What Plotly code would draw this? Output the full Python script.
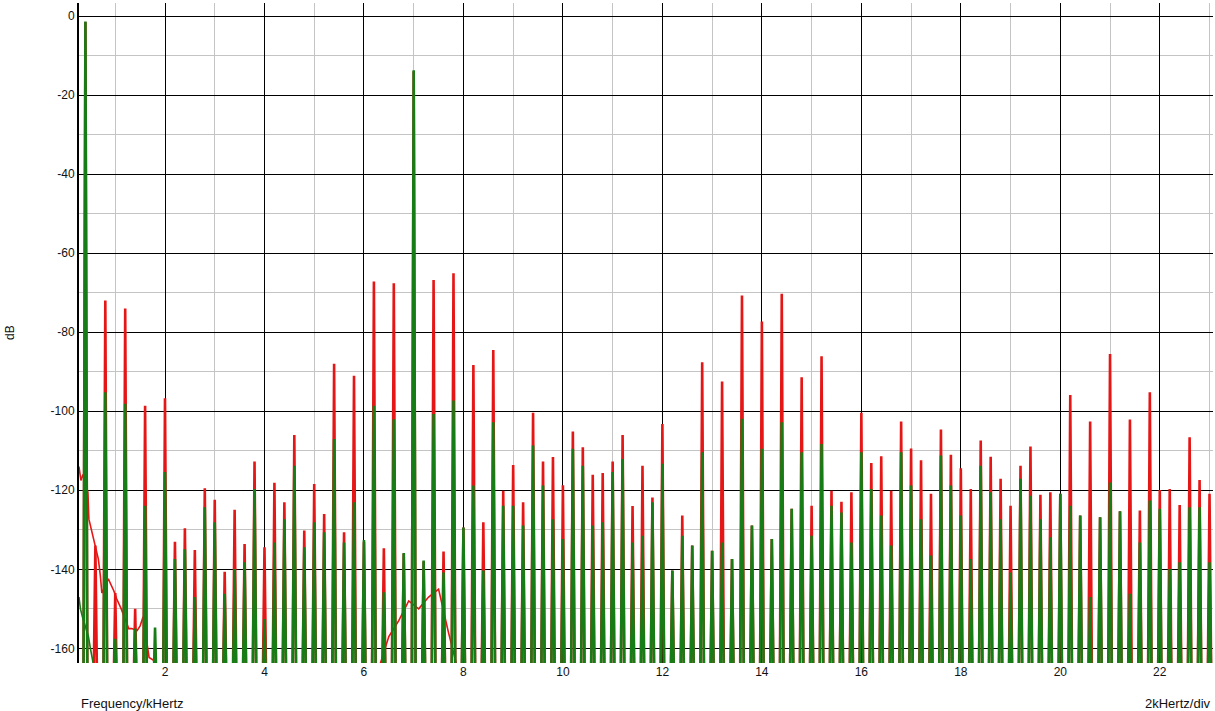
import plotly.graph_objects as go

# ---- data (frequency in kHz, level in dB) ----
spike_khz = [0.4, 0.6, 0.8, 1.0, 1.2, 1.4, 1.6, 1.8, 2.0, 2.2, 2.4, 2.6, 2.8, 3.0,
             3.2, 3.4, 3.6, 3.8, 4.0, 4.2, 4.4, 4.6, 4.8, 5.0, 5.2, 5.4, 5.6, 5.8,
             6.0, 6.2, 6.4, 6.6, 6.8, 7.0, 7.2, 7.4, 7.6, 7.8, 8.0, 8.2, 8.4, 8.6,
             8.8, 9.0, 9.2, 9.4, 9.6, 9.8, 10.0, 10.2, 10.4, 10.6, 10.8, 11.0, 11.2,
             11.4, 11.6, 11.8, 12.0, 12.2, 12.4, 12.6, 12.8, 13.0, 13.2, 13.4, 13.6,
             13.8, 14.0, 14.2, 14.4, 14.6, 14.8, 15.0, 15.2, 15.4, 15.6, 15.8, 16.0,
             16.2, 16.4, 16.6, 16.8, 17.0, 17.2, 17.4, 17.6, 17.8, 18.0, 18.2, 18.4,
             18.6, 18.8, 19.0, 19.2, 19.4, 19.6, 19.8, 20.0, 20.2, 20.4, 20.6, 20.8,
             21.0, 21.2, 21.4, 21.6, 21.8, 22.0, 22.2, 22.4, 22.6, 22.8, 23.0]

red_db = [-1.5, -134, -72, -146, -74, -150, -98.6, -160, -96.7, -133, -129.6, -135.1,
          -119.5, -122.4, -140.6, -124.9, -133.6, -112.7, -134.4, -118.1, -123, -106,
          -130.2, -118.4, -126, -88, -130.6, -91, -133, -67.2, -134.7, -67.6, -136,
          -14, -138, -66.8, -135.5, -65.1, -129.4, -88.3, -128.1, -84.5, -120.1,
          -113.6, -123, -100.4, -112.7, -111.6, -118.7, -105.1, -109.1, -116.1,
          -115.6, -112.7, -106, -124, -113.8, -121.8, -103.2, -140.3, -126.4, -134,
          -87.6, -135.3, -92.5, -137.4, -70.7, -128.9, -77.3, -132.3, -70.3, -124.7,
          -91.4, -123.9, -86.1, -120.1, -122.9, -120.5, -100.4, -113.1, -111.4,
          -120.1, -102.6, -109.4, -112.4, -120.9, -104.6, -111, -114.4, -119.7,
          -107.4, -111.5, -117.1, -123.9, -113.8, -108.9, -121.1, -120.5, -120.9,
          -95.9, -126.4, -102.6, -126.8, -85.5, -125.3, -102.1, -125.1, -95.2,
          -119.9, -119.7, -123.7, -106.6, -117.4, -120.9]

green_db = [-1.4, -165, -95.2, -157.6, -98.1, -155, -123.9, -154.7, -115.4, -137.4,
            -134.9, -147, -124.3, -128.1, -146.2, -139.9, -138.2, -119.7, -152.6,
            -133.2, -127.3, -113.8, -134.4, -128.1, -130.6, -107, -133.2, -123,
            -132.6, -98.6, -145.8, -102, -135.9, -13.7, -137.8, -100.7, -140.8, -97.3,
            -129.4, -118.8, -140.3, -102.8, -123.9, -123.9, -128.9, -108.7, -118.8,
            -127.3, -132.3, -109.5, -113.8, -128.9, -128.1, -115.4, -112.1, -133.2,
            -131.5, -123, -113.3, -140.3, -131.5, -134, -110.4, -135.3, -133.2,
            -137.4, -101.9, -128.9, -109.5, -132.3, -102.8, -124.7, -110.4, -131.5,
            -108.3, -123.9, -125.6, -133.2, -110.4, -119.7, -126.4, -134, -110.4,
            -118.8, -127.3, -136.5, -111.2, -118.8, -126.4, -137.4, -113.8, -120.5,
            -127.3, -140.8, -117.1, -121.4, -127.3, -131.9, -120.9, -123.9, -126.4,
            -147, -126.8, -118, -125.3, -146.2, -133.2, -122.6, -124.7, -139.9,
            -138.2, -124.3, -124.3, -138.2]

# noise skirt of the red channel below the 400 Hz tone's harmonics
red_skirt_low_khz = [0.27, 0.31, 0.35, 0.45, 0.47, 0.52, 0.59, 0.66, 0.70, 0.73,
                     0.86, 0.97, 1.03, 1.12, 1.27, 1.33, 1.44, 1.50, 1.56, 1.68,
                     1.77, 1.85]
red_skirt_low_db = [-114, -117.5, -116, -120.5, -127.3, -129.8, -133.2, -137.4,
                    -141.6, -146, -142.4, -145.4, -147.5, -150, -155, -155, -155.5,
                    -154.3, -152, -162.3, -163, -170]

# noise skirt of the red channel around the 7 kHz tone
red_skirt_mid_khz = [6.3, 6.5, 6.7, 6.9, 7.1, 7.3, 7.5, 7.7, 7.9]
red_skirt_mid_db = [-165, -157, -153, -148, -150, -147, -145, -156, -166]

# noise skirt of the green channel near the 400 Hz tone
green_skirt_khz = [0.27, 0.30, 0.34, 0.46, 0.50, 0.56]
green_skirt_db = [-147, -150, -152, -157, -160, -164]

x_ticks = [2, 4, 6, 8, 10, 12, 14, 16, 18, 20, 22]
y_ticks = [0, -20, -40, -60, -80, -100, -120, -140, -160]

# ---- style ----
RED = "#e51616"
GREEN = "#167c16"
FLOOR = -175
HALF = 0.04
FONT = "Liberation Sans, Arial, sans-serif"


def spike_path(freqs, levels):
    xs, ys = [], []
    for f, v in zip(freqs, levels):
        xs += [f - HALF, f, f + HALF]
        ys += [FLOOR, v, FLOOR]
    return xs, ys


fig = go.Figure()

rx, ry = spike_path(spike_khz, red_db)
gx, gy = spike_path(spike_khz, green_db)

for sx, sy in ((red_skirt_low_khz, red_skirt_low_db),
               (red_skirt_mid_khz, red_skirt_mid_db)):
    fig.add_trace(go.Scatter(x=sx, y=sy, mode="lines",
                             line=dict(color=RED, width=1.6), hoverinfo="skip"))
fig.add_trace(go.Scatter(x=rx, y=ry, mode="lines",
                         line=dict(color=RED, width=2.6), name="red"))
fig.add_trace(go.Scatter(x=green_skirt_khz, y=green_skirt_db, mode="lines",
                         line=dict(color=GREEN, width=1.6), hoverinfo="skip"))
fig.add_trace(go.Scatter(x=gx, y=gy, mode="lines",
                         line=dict(color=GREEN, width=2.6), name="green"))

fig.update_layout(
    width=1215, height=711,
    margin=dict(l=79, r=2, t=3, b=48, autoexpand=False),
    paper_bgcolor="white", plot_bgcolor="white",
    showlegend=False,
    font=dict(family=FONT, size=12, color="#111111"),
    xaxis=dict(
        range=[0.271, 23.07], automargin=False,
        tickvals=x_ticks, ticktext=[str(v) for v in x_ticks],
        showgrid=True, gridcolor="#000000", gridwidth=1,
        minor=dict(dtick=1, tick0=0, showgrid=True, gridcolor="#c4c4c4", gridwidth=1),
        zeroline=False, showline=False, ticks="",
        tickfont=dict(size=12, color="#111111"),
    ),
    yaxis=dict(
        range=[-163.7, 3.3], automargin=False,
        tickvals=y_ticks, ticktext=[str(v) for v in y_ticks],
        showgrid=True, gridcolor="#000000", gridwidth=1,
        minor=dict(dtick=10, tick0=0, showgrid=True, gridcolor="#c4c4c4", gridwidth=1),
        zeroline=False, showline=True, linecolor="#000000", linewidth=2,
        ticks="", tickfont=dict(size=12, color="#111111"),
    ),
    annotations=[
        dict(text="Frequency/kHertz", xref="paper", yref="paper", x=0, y=0,
             xanchor="left", yanchor="middle", yshift=-40, showarrow=False,
             font=dict(size=13, color="#111111")),
        dict(text="2kHertz/div", xref="paper", yref="paper", x=1, y=0,
             xanchor="right", yanchor="middle", yshift=-40, showarrow=False,
             font=dict(size=13, color="#111111")),
        dict(text="dB", xref="paper", yref="paper", x=0, y=0.5,
             xanchor="center", yanchor="middle", xshift=-69, textangle=-90,
             showarrow=False, font=dict(size=12, color="#111111")),
    ],
)

fig.write_html("out.html", config={"displayModeBar": False},
               post_script="document.body.style.margin='0';")
